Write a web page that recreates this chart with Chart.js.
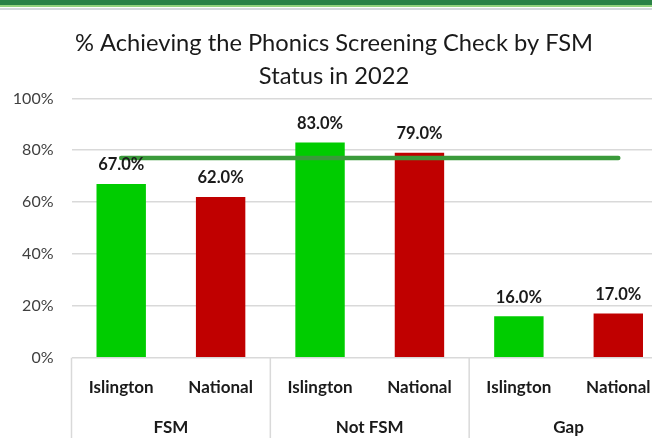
<!DOCTYPE html>
<html>
<head>
<meta charset="utf-8">
<script src="https://cdn.jsdelivr.net/npm/chart.js@4.4.1/dist/chart.umd.min.js"></script>
<style>
  html, body { margin: 0; padding: 0; background: #fff; overflow: hidden; }
  #page { position: relative; width: 652px; height: 438px; overflow: hidden; }
  #topBar { position: absolute; left: 0; top: 0; width: 100%; height: 5px; background: #2a8246; }
  #topBar2 { position: absolute; left: 0; top: 5px; width: 100%; height: 2px; background: #93d37e; }
  #topBar3 { position: absolute; left: 0; top: 8px; width: 100%; height: 2px; background: #d5d9dd; }
  #chartBox { position: absolute; left: 0; top: 0; width: 700px; height: 438px; }
</style>
</head>
<body>
<div id="page">
  <div id="chartBox"><canvas id="chartFSM"></canvas></div>
  <div id="topBar"></div>
  <div id="topBar2"></div>
  <div id="topBar3"></div>
</div>
<script>
// ================= DATA =================
const categories = ["Islington", "National", "Islington", "National", "Islington", "National"];
const groups = ["FSM", "Not FSM", "Gap"];
const values = [67, 62, 83, 79, 16, 17];
const benchmark = [77, 77, 77, 77, 77, 77];
const yTicks = [0, 20, 40, 60, 80, 100];

const GREEN = "#00cc00";
const RED = "#c00000";
const FONT = "Lato";

// ================= PLUGINS =================
// label angka di atas setiap bar
const barLabels = {
  id: "barLabels",
  afterDatasetsDraw(chart) {
    const ctx = chart.ctx;
    const meta = chart.getDatasetMeta(1);
    ctx.save();
    ctx.font = "bold 16.5px " + FONT;
    ctx.fillStyle = "#1a1a1a";
    ctx.textAlign = "center";
    ctx.textBaseline = "middle";
    meta.data.forEach((bar, i) => {
      ctx.fillText(values[i].toFixed(1) + "%", bar.x, bar.y - 19);
    });
    ctx.restore();
  }
};

// garis pemisah antar grup di bawah sumbu x
const groupLines = {
  id: "groupLines",
  afterDraw(chart) {
    const x = chart.scales.x;
    const ctx = chart.ctx;
    const w = (x.right - x.left) / categories.length;
    const per = categories.length / groups.length;
    ctx.save();
    ctx.strokeStyle = "#d9d9d9";
    ctx.lineWidth = 1.5;
    for (let k = 0; k <= groups.length; k++) {
      const px = x.left + k * per * w;
      ctx.beginPath();
      ctx.moveTo(px, chart.chartArea.bottom);
      ctx.lineTo(px, chart.height);
      ctx.stroke();
    }
    ctx.restore();
  }
};

// ================= CHART =================
const ctx = document.getElementById("chartFSM").getContext("2d");
new Chart(ctx, {
  data: {
    labels: categories,
    datasets: [
      {
        type: "line",
        label: "Benchmark",
        data: benchmark,
        borderColor: "#3a9a3a",
        borderWidth: 4.5,
        borderCapStyle: "round",
        pointRadius: 0,
        order: 0
      },
      {
        type: "bar",
        label: "% Achieving",
        data: values,
        backgroundColor: values.map((v, i) => i % 2 === 0 ? GREEN : RED),
        categoryPercentage: 1,
        barPercentage: 0.497,
        order: 1
      }
    ]
  },
  options: {
    responsive: true,
    maintainAspectRatio: false,
    animation: false,
    layout: { padding: { left: 0, right: 32, top: 0, bottom: 0 } },
    plugins: {
      legend: { display: false },
      tooltip: { enabled: false },
      title: {
        display: true,
        text: ["% Achieving the Phonics Screening Check by FSM", "Status in 2022"],
        color: "#1a1a1a",
        font: { family: FONT, size: 23.7, weight: "normal", lineHeight: 1.39 },
        padding: { top: 26.5, bottom: 6 }
      }
    },
    scales: {
      y: {
        min: 0,
        max: 100,
        afterBuildTicks: (s) => { s.ticks = yTicks.map(v => ({ value: v })); },
        afterFit: (s) => { s.width = 71.5; },
        border: { display: false },
        grid: { color: "#d9d9d9", lineWidth: 1.5, drawTicks: false },
        ticks: {
          padding: 18,
          color: "#404040",
          font: { family: FONT, size: 16 },
          callback: (v) => v + "%"
        }
      },
      x: {
        position: "bottom",
        weight: 1,
        afterFit: (s) => { s.height = 56; },
        border: { display: false },
        grid: { display: false },
        ticks: {
          padding: 12,
          color: "#1a1a1a",
          maxRotation: 0,
          font: { family: FONT, size: 17, weight: "bold" }
        }
      },
      x2: {
        type: "category",
        position: "bottom",
        weight: 2,
        labels: groups,
        offset: true,
        afterFit: (s) => { s.height = 24.3; },
        border: { display: false },
        grid: { display: false },
        ticks: {
          padding: -4,
          color: "#1a1a1a",
          maxRotation: 0,
          font: { family: FONT, size: 17, weight: "bold" }
        }
      }
    }
  },
  plugins: [barLabels, groupLines]
});
</script>
</body>
</html>
